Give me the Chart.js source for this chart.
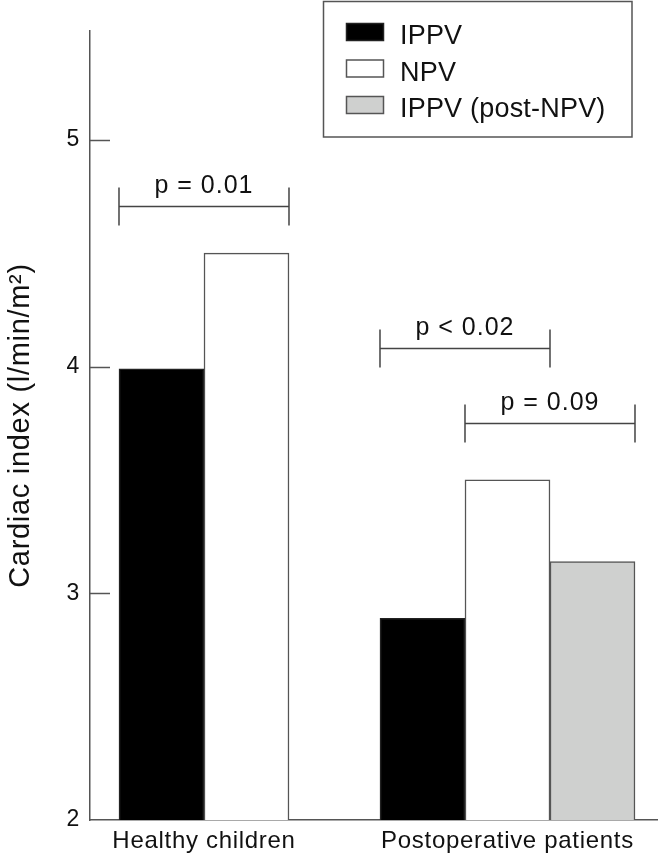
<!DOCTYPE html>
<html>
<head>
<meta charset="utf-8">
<script src="https://cdn.jsdelivr.net/npm/chart.js@4.4.1/dist/chart.umd.min.js"></script>
<style>
html,body{margin:0;padding:0;background:#fff;}
#wrap{width:658px;height:853px;}
</style>
</head>
<body>
<div id="wrap"><canvas id="c" width="658" height="853"></canvas></div>
<script>
// ---- data ----
const categories = ['Healthy children', 'Postoperative patients'];
const seriesNames = ['IPPV', 'NPV', 'IPPV (post-NPV)'];
const ippv = [3.99, 2.89];
const npv = [4.5, 3.5];
const ippvPostNpv = [null, 3.14];
const yTickValues = [2, 3, 4, 5];
const yTitle = 'Cardiac index (l/min/m\u00B2)';
// significance brackets: category index, first/last series index, height (y value), text
const bracketCategory = [0, 1, 1];
const bracketFrom = [0, 0, 1];
const bracketTo = [1, 1, 2];
const bracketY = [4.71, 4.08, 3.75];
const bracketText = ['p = 0.01', 'p < 0.02', 'p = 0.09'];

const FONT = '"Liberation Sans", Arial, Helvetica, sans-serif';
const AXIS = '#555';

function pts(arr) { return arr.map((v, i) => ({ x: i + 1, y: v })); }

const innerTicks = {
  id: 'innerTicks',
  afterDraw(chart) {
    const ctx = chart.ctx, ys = chart.scales.y, a = chart.chartArea;
    ctx.save();
    ctx.strokeStyle = AXIS; ctx.lineWidth = 1.5;
    yTickValues.forEach(v => {
      if (v <= ys.min) return;
      const py = Math.round(ys.getPixelForValue(v)) + 0.5;
      ctx.beginPath(); ctx.moveTo(a.left, py); ctx.lineTo(a.left + 20, py); ctx.stroke();
    });
    ctx.restore();
  }
};

const bracketsPlugin = {
  id: 'brackets',
  afterDatasetsDraw(chart) {
    const ctx = chart.ctx, ys = chart.scales.y;
    ctx.save();
    ctx.strokeStyle = '#444'; ctx.lineWidth = 1.5;
    ctx.fillStyle = '#111';
    ctx.font = '25px ' + FONT;
    ctx.textAlign = 'center'; ctx.textBaseline = 'alphabetic';
    try { ctx.letterSpacing = '1px'; } catch (e) {}
    bracketText.forEach((t, k) => {
      const e1 = chart.getDatasetMeta(bracketFrom[k]).data[bracketCategory[k]].getProps(['x', 'width'], true);
      const e2 = chart.getDatasetMeta(bracketTo[k]).data[bracketCategory[k]].getProps(['x', 'width'], true);
      const x1 = e1.x - e1.width / 2, x2 = e2.x + e2.width / 2;
      const py = Math.round(ys.getPixelForValue(bracketY[k])) + 0.5;
      ctx.beginPath();
      ctx.moveTo(x1, py); ctx.lineTo(x2, py);
      ctx.moveTo(x1, py - 19); ctx.lineTo(x1, py + 19);
      ctx.moveTo(x2, py - 19); ctx.lineTo(x2, py + 19);
      ctx.stroke();
      ctx.fillText(t, (x1 + x2) / 2, py - 14);
    });
    ctx.restore();
  }
};

const legendBox = {
  id: 'legendBox',
  afterDraw(chart) {
    const ctx = chart.ctx;
    ctx.save();
    ctx.fillStyle = '#fff';
    ctx.fillRect(323, 1, 309, 136);
    ctx.strokeStyle = AXIS; ctx.lineWidth = 1.5;
    ctx.strokeRect(323.5, 1.5, 308.5, 135.5);
    ctx.font = '27px ' + FONT;
    ctx.textAlign = 'left'; ctx.textBaseline = 'alphabetic';
    try { ctx.letterSpacing = '0.2px'; } catch (e) {}
    chart.data.datasets.forEach((ds, i) => {
      const base = 44 + i * 36.5;
      ctx.fillStyle = ds.backgroundColor;
      ctx.fillRect(346, base - 21, 38, 18);
      ctx.strokeStyle = ds.borderColor; ctx.lineWidth = 1.5;
      ctx.strokeRect(346.5, base - 20.5, 37, 17);
      ctx.fillStyle = '#111';
      ctx.fillText(ds.label, 400, base);
    });
    ctx.restore();
  }
};

const spacing = {
  id: 'spacing',
  beforeDraw(chart) { try { chart.ctx.letterSpacing = '0.7px'; } catch (e) {} }
};

new Chart(document.getElementById('c'), {
  type: 'bar',
  data: {
    datasets: [
      { label: seriesNames[0], data: pts(ippv), backgroundColor: '#000000', borderColor: '#222222', borderWidth: 1.5 },
      { label: seriesNames[1], data: pts(npv), backgroundColor: '#ffffff', borderColor: '#555555', borderWidth: 1.5 },
      { label: seriesNames[2], data: pts(ippvPostNpv), backgroundColor: '#cfd0cf', borderColor: '#555555', borderWidth: 1.5 }
    ]
  },
  options: {
    responsive: false,
    animation: false,
    devicePixelRatio: 1,
    layout: { padding: { top: 31, left: 0, right: 0, bottom: 0 } },
    datasets: { bar: { barThickness: 85, skipNull: true, grouped: true } },
    plugins: { legend: { display: false }, tooltip: { enabled: false } },
    scales: {
      x: {
        type: 'linear',
        offset: false,
        min: 0.6244,
        max: 2.4959,
        afterBuildTicks: s => { s.ticks = categories.map((c, i) => ({ value: i + 1 })); },
        afterFit: s => { s.height = 33; },
        grid: { display: false, drawTicks: false },
        border: { display: true, color: AXIS, width: 1.5 },
        ticks: {
          autoSkip: false, maxRotation: 0, padding: 7,
          color: '#111', font: { family: FONT, size: 24, lineHeight: 1.2 },
          callback: v => categories[Math.round(v) - 1] || ''
        }
      },
      y: {
        type: 'linear',
        min: 2,
        max: 5.48,
        beginAtZero: false,
        afterBuildTicks: s => { s.ticks = yTickValues.map(v => ({ value: v })); },
        afterFit: s => { s.width = 90; },
        grid: { display: false, drawTicks: false },
        border: { display: true, color: AXIS, width: 1.5 },
        ticks: { padding: 10, color: '#111', font: { family: FONT, size: 23 } },
        title: {
          display: true, text: yTitle, color: '#111',
          font: { family: FONT, size: 29, lineHeight: 1.2 },
          padding: { top: 4, bottom: 0 }
        }
      }
    }
  },
  plugins: [spacing, innerTicks, bracketsPlugin, legendBox]
});
</script>
</body>
</html>
